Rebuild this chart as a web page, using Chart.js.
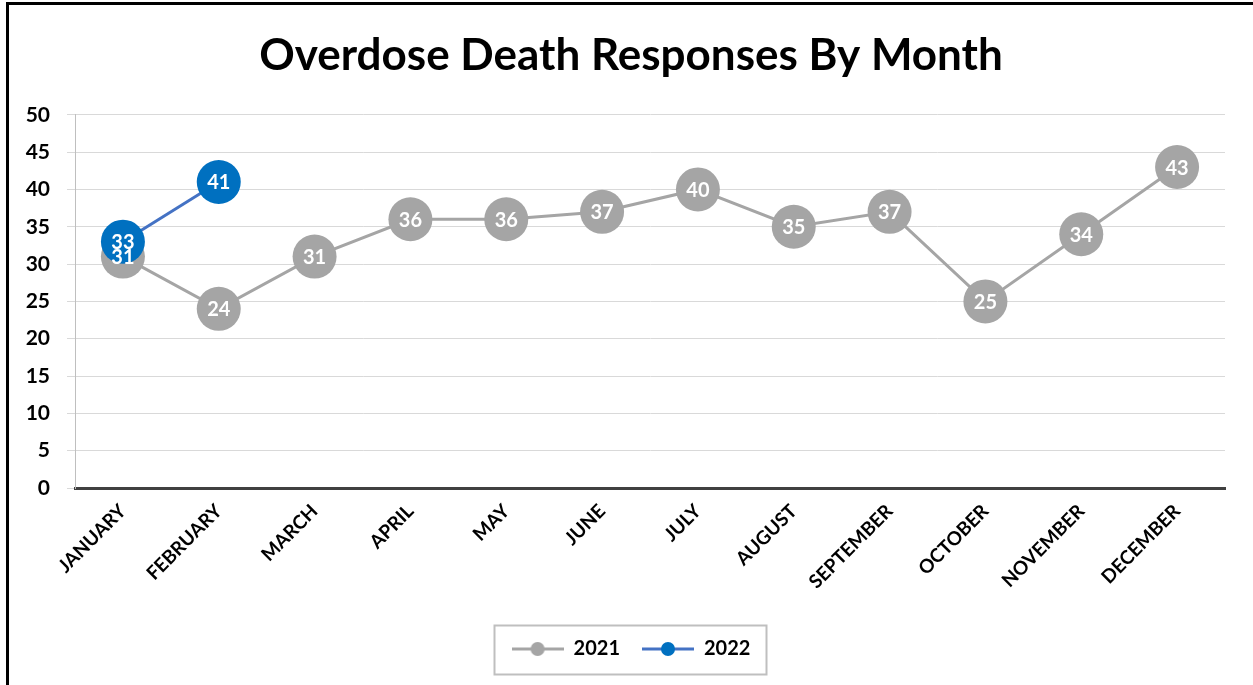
<!DOCTYPE html>
<html>
<head>
<meta charset="utf-8">
<script src="https://cdn.jsdelivr.net/npm/chart.js@4/dist/chart.umd.min.js"></script>
<style>
  html, body { margin: 0; padding: 0; background: #fff; }
  #wrap { position: absolute; left: 6px; top: 2px; width: 1247px; height: 683px;
          border-left: 3px solid #000; border-top: 3px solid #000; box-sizing: border-box; }
  canvas { display: block; }
</style>
</head>
<body>
<div id="wrap"><canvas id="c"></canvas></div>
<script>
const months = ["JANUARY","FEBRUARY","MARCH","APRIL","MAY","JUNE","JULY","AUGUST","SEPTEMBER","OCTOBER","NOVEMBER","DECEMBER"];
const values2021 = [31,24,31,36,36,37,40,35,37,25,34,43];
const values2022 = [33,41,null,null,null,null,null,null,null,null,null,null];
const yTicks = [0,5,10,15,20,25,30,35,40,45,50];

const FONT = "Lato, 'Open Sans', sans-serif";
const GRAY = '#A5A5A5';
const BLUE_LINE = '#4472C4';
const BLUE_PT = '#0070C0';
const PAD_BOTTOM = 16;
const PLOT_BOTTOM = 483;

function legendIcon(lineColor, ptColor) {
  const c = document.createElement('canvas');
  c.width = 52; c.height = 16;
  const g = c.getContext('2d');
  g.strokeStyle = lineColor; g.lineWidth = 3;
  g.beginPath(); g.moveTo(0, 8); g.lineTo(52, 8); g.stroke();
  g.fillStyle = ptColor;
  g.beginPath(); g.arc(26, 8, 7, 0, Math.PI * 2); g.fill();
  return c;
}
const icon2021 = legendIcon(GRAY, GRAY);
const icon2022 = legendIcon(BLUE_LINE, BLUE_PT);

const dataLabels = {
  id: 'dataLabels',
  afterDatasetsDraw(chart) {
    const ctx = chart.ctx;
    ctx.save();
    ctx.font = "bold 20px " + FONT;
    ctx.fillStyle = '#fff';
    ctx.textAlign = 'center';
    ctx.textBaseline = 'middle';
    chart.data.datasets.forEach((ds, i) => {
      const meta = chart.getDatasetMeta(i);
      meta.data.forEach((pt, j) => {
        const v = ds.data[j];
        if (v === null || v === undefined) return;
        ctx.fillText(String(v), pt.x, pt.y + 1);
      });
    });
    ctx.restore();
  }
};

const legendBox = {
  id: 'legendBox',
  afterDraw(chart) {
    const hb = chart.legend && chart.legend.legendHitBoxes;
    if (!hb || !hb.length) return;
    let l = Infinity, r = -Infinity, t = Infinity, b = -Infinity;
    hb.forEach(h => { l = Math.min(l, h.left); r = Math.max(r, h.left + h.width); t = Math.min(t, h.top); b = Math.max(b, h.top + h.height); });
    const cy = (t + b) / 2;
    const ctx = chart.ctx;
    ctx.save();
    ctx.strokeStyle = '#BFBFBF';
    ctx.lineWidth = 2;
    ctx.strokeRect(Math.round(l - 18) + 0.5, Math.round(cy - 24.5) + 0.5, Math.round(r - l + 33), 49);
    ctx.restore();
  }
};

new Chart(document.getElementById('c'), {
  type: 'line',
  data: {
    labels: months,
    datasets: [
      { label: '2021', data: values2021, borderColor: GRAY, backgroundColor: GRAY,
        pointBackgroundColor: GRAY, pointBorderWidth: 0, pointRadius: 22, pointHoverRadius: 22,
        borderWidth: 3, order: 1 },
      { label: '2022', data: values2022, borderColor: BLUE_LINE, backgroundColor: BLUE_PT,
        pointBackgroundColor: BLUE_PT, pointBorderWidth: 0, pointRadius: 22, pointHoverRadius: 22,
        borderWidth: 3, order: 0 }
    ]
  },
  options: {
    responsive: true,
    maintainAspectRatio: false,
    animation: false,
    events: [],
    layout: { padding: { left: 0, right: 0, top: 0, bottom: PAD_BOTTOM } },
    plugins: {
      title: { display: true, text: 'Overdose Death Responses By Month', color: '#000',
               font: { family: FONT, size: 44, weight: 'bold' }, padding: { top: 24, bottom: 33 } },
      legend: {
        position: 'bottom',
        labels: {
          usePointStyle: true, pointStyleWidth: 52, padding: 22, color: '#000',
          font: { family: FONT, size: 20, weight: 'bold' },
          sort: (a, b) => a.datasetIndex - b.datasetIndex,
          generateLabels(chart) {
            return chart.data.datasets.map((ds, i) => ({
              text: ds.label, datasetIndex: i, pointStyle: i === 0 ? icon2021 : icon2022,
              fillStyle: ds.backgroundColor, strokeStyle: ds.borderColor, lineWidth: 0, hidden: false, fontColor: '#000'
            }));
          }
        }
      },
      tooltip: { enabled: false }
    },
    scales: {
      x: {
        offset: true,
        grid: { display: false, drawTicks: false },
        border: { color: '#404040', width: 3 },
        ticks: { color: '#000', font: { family: FONT, size: 19, weight: 'bold' }, maxRotation: 45, minRotation: 45, padding: 12, autoSkip: false },
        afterFit(scale) {
          const ch = scale.chart;
          const lh = ch.legend ? ch.legend.height : 70;
          scale.height = ch.height - PAD_BOTTOM - lh - PLOT_BOTTOM;
        }
      },
      y: {
        min: 0, max: 50,
        afterBuildTicks(scale) { scale.ticks = yTicks.map(v => ({ value: v })); },
        afterFit(scale) { scale.width = 66; },
        grid: { color: '#D9D9D9', lineWidth: 1, tickLength: 8 },
        border: { color: '#BFBFBF', width: 1 },
        ticks: { color: '#000', font: { family: FONT, size: 21, weight: 'bold' }, padding: 17 }
      },
      yRight: {
        position: 'right',
        display: true,
        min: 0, max: 50,
        grid: { display: false, drawTicks: false },
        border: { display: false },
        ticks: { display: false },
        afterFit(scale) { scale.width = 28; }
      }
    }
  },
  plugins: [dataLabels, legendBox]
});
</script>
</body>
</html>
